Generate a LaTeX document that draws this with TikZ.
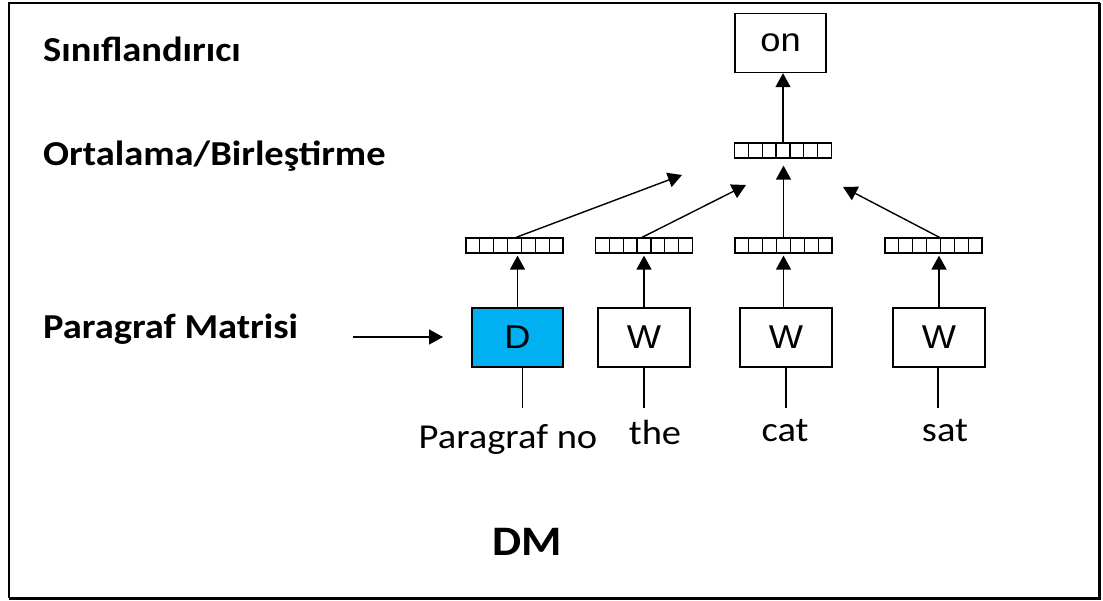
\documentclass[tikz,border=0pt]{standalone}
\usepackage{fontspec}
\setmainfont{Carlito}[FakeStretch=1.1]
\newfontfamily\boxfont{Liberation Sans}[FakeStretch=1.1]
\usetikzlibrary{arrows.meta,calc}

\tikzset{
  heading/.style={anchor=base west, inner sep=0pt, font=\fontsize{35}{40}\selectfont\bfseries},
  word/.style={anchor=base, inner sep=0pt, font=\fontsize{35}{40}\selectfont},
  unitbox/.style={draw, line width=1.4pt, minimum height=59pt, inner sep=0pt,
    font=\boxfont\fontsize{33}{36}\selectfont},
  vecbar/.style={draw, line width=1.2pt, minimum width=97pt, minimum height=15pt, inner sep=0pt,
    path picture={\foreach \k in {1,...,6}
      \draw[line width=1.2pt]
        ($(path picture bounding box.south west)!{\k/7}!(path picture bounding box.south east)$)
        -- ($(path picture bounding box.north west)!{\k/7}!(path picture bounding box.north east)$);}},
  arr/.style={line width=1.4pt, -{Triangle[length=14pt,width=15pt]}},
  stem/.style={line width=1.4pt}
}

\begin{document}
\begin{tikzpicture}[x=1pt,y=-1pt]
\useasboundingbox (0,0) rectangle (1103,601);

% outer frame, heavier on the lower and right sides
\draw[line width=2pt] (9,598) -- (9,3) -- (1099.5,3);
\draw[line width=3pt] (9,598) -- (1099.5,598) -- (1099.5,3);

% row titles
\node[heading] (tcls) at (43,62) {Sınıflandırıcı};
\node[heading] (tavg) at (43,166) {Ortalama/Birleştirme};
\node[heading] (tmat) at (43,339) {Paragraf Matrisi};

% output word
\node[unitbox, minimum width=91pt] (on) at (780.5,43) {on};

% combined vector
\node[vecbar] (v0) at (783,150.5) {};

% per-input vectors
\node[vecbar] (v1) at (514.5,245.5) {};
\node[vecbar] (v2) at (644,245.5) {};
\node[vecbar] (v3) at (783.5,245.5) {};
\node[vecbar] (v4) at (933.5,245.5) {};

% paragraph and word matrices
\node[unitbox, minimum width=91pt, fill={rgb,255:red,0;green,176;blue,240}] (D) at (517.5,337.5) {D};
\node[unitbox, minimum width=92pt] (W1) at (644,337.5) {W};
\node[unitbox, minimum width=92pt] (W2) at (786,337.5) {W};
\node[unitbox, minimum width=92pt] (W3) at (939,337.5) {W};

% inputs
\node[word] (lpar) at (508,448) {Paragraf no};
\node[word] (lthe) at (655,444) {the};
\node[word] (lcat) at (785,441) {cat};
\node[word] (lsat) at (945,441) {sat};

% model name
\node[anchor=base, inner sep=0pt, font=\fontsize{42}{46}\selectfont\bfseries] (dm) at (527,555) {DM};

% input stems
\draw[stem] ([xshift=5pt]D.south) -- +(0,40);
\draw[stem] (W1.south) -- +(0,40);
\draw[stem] (W2.south) -- +(0,40);
\draw[stem] ([xshift=-1pt]W3.south) -- +(0,40);

% matrix to vector
\draw[arr, shorten >=2pt] (D.north) -- (D.north |- v1.south);
\draw[arr, shorten >=2pt] (W1.north) -- (W1.north |- v2.south);
\draw[arr, shorten >=2pt] ([xshift=-2.5pt]W2.north) -- ([xshift=-2.5pt]W2.north |- v3.south);
\draw[arr, shorten >=2pt] (W3.north) -- (W3.north |- v4.south);

% vectors towards the combining layer
\coordinate (e1) at (682,175);
\coordinate (e2) at (746,185);
\coordinate (e4) at (843,187);
\draw[arr] ([xshift=1.5pt]v1.north) -- (e1);
\draw[arr] ([xshift=-2pt]v2.north) -- (e2);
\draw[arr, shorten >=7pt] (v3.north) -- (v3.north |- v0.south);
\draw[arr] ([xshift=6pt]v4.north) -- (e4);

% combined vector to classifier output
\draw[arr] (v0.north) -- (v0.north |- on.south);

% paragraph matrix pointer
\coordinate (p0) at (353,337);
\coordinate (p1) at (443,337);
\draw[arr] (p0) -- (p1);
\end{tikzpicture}
\end{document}
